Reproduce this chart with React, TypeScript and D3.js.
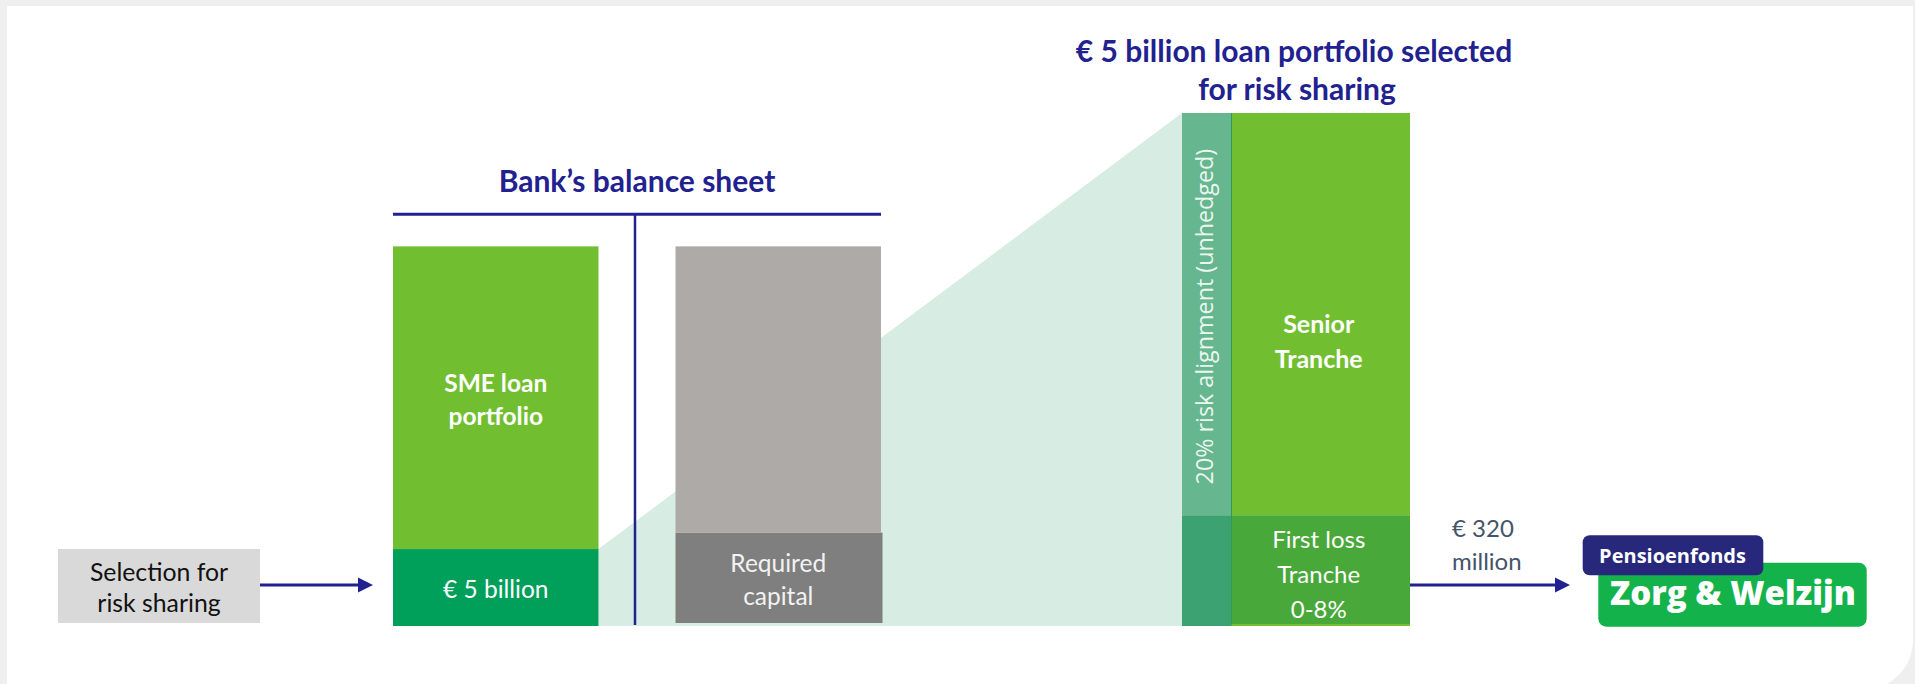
import React from 'react'
import * as d3 from 'd3'

// diagram units: 0 = bottom of the bars, 100 = top of the selected portfolio bar
const assetStack = [15, 59] // selected slice, rest of SME book
const assetLabels = [['€ 5 billion'], ['SME loan', 'portfolio']]
const capitalStack = [18.2, 55.8] // required capital, rest of liabilities
const capitalLabels = [['Required', 'capital'], []]
const trancheStack = [21.6, 78.4] // first loss, senior
const trancheLabels = [['First loss', 'Tranche', '0-8%'], ['Senior', 'Tranche']]
const alignmentShare = 21.7 // width share of the unhedged strip (% of bar width)
const balanceColumns = ['assets', 'liabilities']

const NAVY = '#21218f'
const FONT = 'Lato, "Open Sans", sans-serif'

const W = 1915
const H = 684

function stackUp(values) {
  let acc = 0
  return values.map(v => {
    const s = { from: acc, to: acc + v }
    acc += v
    return s
  })
}

function Lines({ x, cy, lines, size, lh, fill, weight = 400, anchor = 'middle' }) {
  const n = lines.length
  return (
    <text x={x} fill={fill} fontSize={size} fontWeight={weight} textAnchor={anchor} fontFamily={FONT}>
      {lines.map((t, i) => (
        <tspan key={i} x={x} y={cy + (i - (n - 1) / 2) * lh + 0.42 * size}>{t}</tspan>
      ))}
    </text>
  )
}

function Arrow({ x1, x2, y }) {
  return (
    <g>
      <line x1={x1} x2={x2 - 12} y1={y} y2={y} stroke={NAVY} strokeWidth={3} />
      <path d={`M${x2 - 15},${y - 7.5} L${x2},${y} L${x2 - 15},${y + 7.5} Z`} fill={NAVY} />
    </g>
  )
}

export default function App() {
  const y = d3.scaleLinear().domain([0, 100]).range([626, 113])
  const xBal = d3.scaleBand().domain(balanceColumns).range([393, 881]).paddingInner(0.2726).paddingOuter(0)
  const xTr = d3.scaleLinear().domain([0, 100]).range([1182, 1410])

  const assets = stackUp(assetStack)
  const capital = stackUp(capitalStack)
  const tranches = stackUp(trancheStack)

  const ax = xBal('assets')
  const lx = xBal('liabilities')
  const bw = xBal.bandwidth()
  const split = xTr(alignmentShare)
  const mainCx = (split + xTr(100)) / 2

  // wedge from the selected slice up to the full tranche bar
  const wedge = [
    [ax + bw, y(assets[0].to)],
    [xTr(0), y(tranches[1].to)],
    [xTr(0), y(0)],
    [ax + bw, y(0)]
  ]

  const assetFill = ['#00a05b', '#71bf31']
  const capitalFill = ['#7f7f7f', '#aeaaa8']
  const mainFill = ['#49a83a', '#71bf31']
  const stripFill = ['#3da271', '#66b78f']

  return (
    <svg width={W} height={H} style={{ position: 'absolute', left: 0, top: 0 }} fontFamily={FONT}>
      <rect width={W} height={H} fill="#efefef" />
      <path d={`M7,6 H1913 V640 A50,50 0 0 1 1863,690 H7 Z`} fill="#ffffff" />

      {/* selection box */}
      <rect x={58} y={549} width={202} height={74} fill="#d9d9d9" />
      <Lines x={159} cy={586} lines={['Selection for', 'risk sharing']} size={24.8} lh={31.7} fill="#111" />
      <Arrow x1={260} x2={373} y={585} />

      <path d={d3.line()(wedge) + 'Z'} fill="#d7ece3" />

      {/* balance sheet header */}
      <text x={xBal.range()[0] + (xBal.range()[1] - xBal.range()[0]) / 2} y={192.3} textAnchor="middle"
        fontSize={30} fontWeight={700} fill={NAVY}>Bank’s balance sheet</text>
      <line x1={393} x2={881} y1={214.3} y2={214.3} stroke={NAVY} strokeWidth={3} />
      <line x1={635} x2={635} y1={214.3} y2={y(0) - 1} stroke={NAVY} strokeWidth={2.5} />

      {assets.map((s, i) => (
        <g key={'a' + i}>
          <rect x={ax} y={y(s.to)} width={bw} height={y(s.from) - y(s.to)} fill={assetFill[i]} />
          <Lines x={ax + bw / 2} cy={(y(s.from) + y(s.to)) / 2} lines={assetLabels[i]} size={24.5}
            lh={33} fill="#fff" weight={i === 1 ? 700 : 400} />
        </g>
      ))}
      {capital.map((s, i) => (
        <g key={'c' + i}>
          <rect x={lx} y={y(s.to)} width={bw + (i === 0 ? 1.5 : 0)} height={y(s.from) - y(s.to) - (i === 0 ? 3 : 0)}
            fill={capitalFill[i]} />
          <Lines x={lx + bw / 2} cy={(y(s.from) + y(s.to)) / 2 - 1} lines={capitalLabels[i]} size={24.5}
            lh={32.5} fill="#f2f2f2" />
        </g>
      ))}

      {/* selected portfolio */}
      <text textAnchor="middle" fontSize={30} fontWeight={700} fill={NAVY}>
        <tspan x={1294} y={62.3}>€ 5 billion loan portfolio selected</tspan>
        <tspan x={1297} y={100}>for risk sharing</tspan>
      </text>
      {tranches.map((s, i) => (
        <g key={'t' + i}>
          <rect x={xTr(0)} y={y(s.to)} width={split - xTr(0)} height={y(s.from) - y(s.to)} fill={stripFill[i]} />
          <rect x={split} y={y(s.to)} width={xTr(100) - split} height={y(s.from) - y(s.to)} fill={mainFill[i]} />
          <Lines x={mainCx - 2} cy={(y(s.from) + y(s.to)) / 2 + (i === 1 ? 25.5 : 2)} lines={trancheLabels[i]}
            size={i === 1 ? 25 : 24} lh={35} fill="#fff" weight={i === 1 ? 700 : 400} />
        </g>
      ))}
      <line x1={split} x2={split} y1={y(100)} y2={y(0)} stroke="#2f9a4f" strokeWidth={1} />
      <line x1={split} x2={xTr(100)} y1={y(0) - 1} y2={y(0) - 1} stroke="#71bf31" strokeWidth={2} />
      <text transform={`translate(${(xTr(0) + split) / 2 + 6.5},${(y(tranches[1].from) + y(100)) / 2 + 2.5}) rotate(-90)`}
        textAnchor="middle" fontSize={23.3} fontFamily='"Open Sans", sans-serif' fill="#ffffff" fillOpacity={0.9}>
        20% risk alignment (unhedged)
      </text>

      <Arrow x1={xTr(100)} x2={1570} y={585} />
      <text fontSize={24} fill="#44546a">
        <tspan x={1452} y={537.3}>€ 320</tspan>
        <tspan x={1452} y={570}>million</tspan>
      </text>

      {/* fund logo */}
      <rect x={1598.3} y={562.7} width={268.4} height={64} rx={8} fill="#14b24b" />
      <text x={1733} y={605} textAnchor="middle" fontSize={33} fontWeight={800}
        fontFamily='"Open Sans", sans-serif' fill="#fff">Zorg &amp; Welzijn</text>
      <rect x={1582.7} y={535.3} width={180.6} height={40} rx={7} fill="#27287c" />
      <text x={1672.5} y={563.3} textAnchor="middle" fontSize={20} fontWeight={700}
        fontFamily='"Open Sans", sans-serif' fill="#fff">Pensioenfonds</text>
    </svg>
  )
}
